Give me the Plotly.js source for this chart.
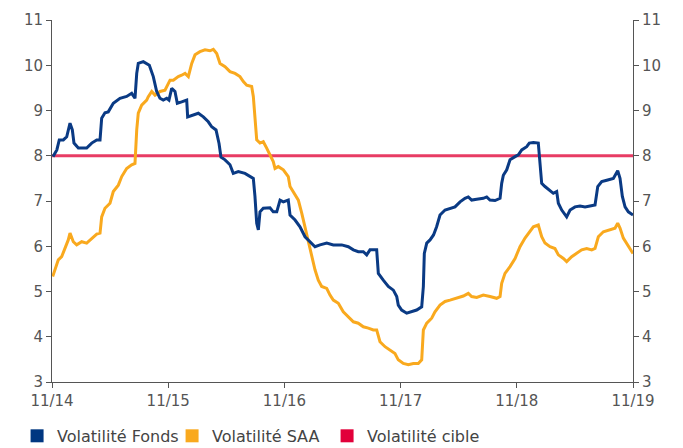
<!DOCTYPE html>
<html>
<head>
<meta charset="utf-8">
<script src="https://cdn.plot.ly/plotly-3.0.1.min.js"></script>
<style>html,body{margin:0;padding:0;background:#fff;}#chart{width:683px;height:448px;}</style>
</head>
<body>
<div id="chart"></div>
<script>
// x = months since November 2014
const tickVals = [0, 12, 24, 36, 48, 60];
const tickLabels = ["11/14", "11/15", "11/16", "11/17", "11/18", "11/19"];

const fondsX = [0.1,0.5,0.75,1.17,1.52,1.86,2.1,2.27,2.72,3.58,4.1,4.62,4.96,5.13,5.47,5.81,6.33,7.02,7.71,8.23,8.57,8.75,8.91,9.43,10.05,10.46,10.81,11.15,11.49,11.85,12.08,12.36,12.7,12.94,13.39,13.91,14.01,14.59,15.11,15.63,16.14,16.49,16.94,17.25,17.45,17.87,18.38,18.72,19.24,19.93,20.45,20.79,20.96,21.14,21.31,21.48,21.82,22.51,22.85,23.21,23.55,23.89,24.4,24.58,25.1,25.61,26.13,26.64,27.16,27.68,28.37,29.05,29.92,30.6,31.12,31.63,32.15,32.5,32.84,33.53,33.7,34.21,34.73,35.25,35.6,35.76,36.11,36.63,37.15,37.66,38.18,38.35,38.45,38.7,39.04,39.4,39.72,40.07,40.59,41.1,41.62,42.14,42.65,42.99,43.34,43.86,44.54,44.89,45.23,45.75,46.27,46.44,46.61,46.96,47.3,47.82,48.16,48.51,49.02,49.29,49.71,50.22,50.4,50.57,50.91,51.43,51.77,52.12,52.29,52.64,53.15,53.5,54.01,54.53,55.05,55.56,56.08,56.36,56.77,57.29,57.97,58.42,58.66,58.9,59.18,59.52,60];
const fondsY = [7.98,8.13,8.35,8.35,8.42,8.72,8.57,8.28,8.17,8.17,8.28,8.35,8.35,8.83,8.95,8.97,9.16,9.27,9.31,9.38,9.27,9.82,10.04,10.08,10.0,9.75,9.42,9.27,9.23,9.27,9.23,9.49,9.42,9.16,9.19,9.23,8.86,8.9,8.94,8.86,8.75,8.64,8.57,8.27,7.97,7.91,7.8,7.61,7.65,7.61,7.54,7.5,7.1,6.51,6.36,6.76,6.84,6.85,6.76,6.76,7.02,6.98,7.02,6.69,6.58,6.43,6.21,6.1,5.99,6.03,6.07,6.03,6.03,5.99,5.92,5.88,5.88,5.81,5.92,5.92,5.4,5.25,5.11,5.03,4.89,4.7,4.59,4.52,4.55,4.59,4.66,5.11,5.84,6.07,6.14,6.25,6.43,6.69,6.8,6.84,6.87,6.98,7.06,7.09,7.02,7.04,7.06,7.09,7.02,7.01,7.06,7.39,7.57,7.69,7.91,7.98,8.02,8.13,8.2,8.28,8.29,8.28,7.76,7.39,7.32,7.24,7.17,7.21,6.95,6.8,6.65,6.8,6.87,6.89,6.87,6.89,6.91,7.32,7.43,7.46,7.5,7.67,7.5,7.1,6.87,6.76,6.69];

const saaX = [0.07,0.31,0.65,1.0,1.34,1.68,1.86,2.2,2.55,3.07,3.58,4.1,4.62,4.96,5.13,5.47,5.99,6.33,6.85,7.2,7.71,8.23,8.57,8.75,8.91,9.26,9.78,9.93,10.3,10.64,11.15,11.67,12.19,12.53,13.04,13.39,13.74,14.08,14.43,14.77,15.28,15.8,16.32,16.66,17.01,17.35,17.87,18.38,18.9,19.41,19.76,20.11,20.62,20.79,20.96,21.14,21.48,21.82,22.17,22.51,22.85,23.03,23.37,23.89,24.4,24.58,24.92,25.44,25.79,26.13,26.47,26.82,27.16,27.5,27.85,28.37,28.71,29.05,29.57,30.08,30.6,31.12,31.63,32.15,32.67,33.18,33.53,33.87,34.39,34.91,35.42,35.76,36.28,36.8,37.31,37.83,38.18,38.35,38.7,39.21,39.55,40.07,40.59,41.1,41.8,42.48,42.99,43.34,43.86,44.54,45.23,45.92,46.27,46.44,46.78,47.3,47.82,48.33,48.85,49.2,49.71,50.22,50.57,50.91,51.43,51.94,52.29,52.81,53.15,53.67,54.19,54.7,55.22,55.74,56.08,56.42,56.94,57.63,58.14,58.42,58.66,59.0,59.52,60];
const saaY = [5.33,5.48,5.7,5.77,5.95,6.14,6.29,6.1,6.03,6.1,6.07,6.18,6.27,6.29,6.65,6.84,6.95,7.21,7.35,7.54,7.72,7.8,7.83,8.57,8.94,9.12,9.23,9.3,9.42,9.34,9.42,9.45,9.67,9.67,9.75,9.78,9.82,9.75,10.04,10.23,10.3,10.34,10.32,10.35,10.26,10.04,9.97,9.86,9.82,9.75,9.64,9.56,9.53,9.31,8.79,8.35,8.28,8.31,8.17,8.02,7.87,7.72,7.76,7.69,7.54,7.32,7.21,7.02,6.73,6.43,6.07,5.77,5.48,5.25,5.11,5.07,4.92,4.81,4.74,4.55,4.44,4.33,4.3,4.22,4.19,4.15,4.15,3.89,3.78,3.71,3.63,3.49,3.41,3.38,3.41,3.41,3.49,4.15,4.3,4.41,4.55,4.7,4.78,4.81,4.85,4.9,4.96,4.89,4.87,4.92,4.89,4.85,4.89,5.18,5.4,5.55,5.73,5.99,6.18,6.29,6.43,6.47,6.21,6.07,5.99,5.95,5.81,5.73,5.66,5.77,5.84,5.92,5.95,5.92,5.95,6.21,6.32,6.36,6.4,6.51,6.4,6.18,5.99,5.84];

const cibleX = [0, 60];
const cibleY = [8, 8];

const seriesNames = ["Volatilité Fonds", "Volatilité SAA", "Volatilité cible"];
const colors = ["#0A3A84", "#F9A91E", "#E83C64"];
const legendColors = ["#003781", "#F9A91E", "#E2003A"];

const traces = [
  {x: cibleX, y: cibleY, type: "scatter", mode: "lines", line: {color: colors[2], width: 3}, showlegend: false, hoverinfo: "skip"},
  {x: saaX, y: saaY, type: "scatter", mode: "lines", line: {color: colors[1], width: 3}, showlegend: false},
  {x: fondsX, y: fondsY, type: "scatter", mode: "lines", line: {color: colors[0], width: 3}, showlegend: false},
  {x: cibleX, y: cibleY, yaxis: "y2", type: "scatter", mode: "lines", line: {width: 0}, opacity: 0, showlegend: false, hoverinfo: "skip"}
];
seriesNames.forEach((n, i) => {
  traces.push({x: [null], y: [null], type: "scatter", mode: "markers", name: n,
    marker: {symbol: "square", size: 13, color: legendColors[i]}});
});

const fontFam = "DejaVu Sans, sans-serif";
const axisFont = {family: fontFam, size: 15, color: "#555"};
const layout = {
  width: 683, height: 448,
  margin: {l: 52, r: 50, t: 20, b: 66},
  paper_bgcolor: "#fff", plot_bgcolor: "#fff",
  showlegend: true,
  legend: {orientation: "h", x: 0.025, xref: "container", xanchor: "left",
    y: 0.027, yref: "container", yanchor: "middle",
    font: {family: fontFam, size: 16, color: "#444"},
    itemwidth: 30, entrywidth: 110, entrywidthmode: "pixels", tracegroupgap: 0, itemclick: false},
  xaxis: {range: [0, 60], tickvals: tickVals, ticktext: tickLabels, showgrid: false, zeroline: false,
    showline: true, linecolor: "#555", linewidth: 1, ticks: "outside", ticklen: 5, tickcolor: "#555",
    tickfont: axisFont},
  yaxis: {range: [3, 11], dtick: 1, showgrid: false, zeroline: false, showline: true, linecolor: "#555",
    linewidth: 1, ticks: "outside", ticklen: 5, tickcolor: "#555", tickfont: axisFont},
  yaxis2: {range: [3, 11], dtick: 1, overlaying: "y", side: "right", showgrid: false, zeroline: false,
    showline: true, linecolor: "#555", linewidth: 1, ticks: "outside", ticklen: 5, tickcolor: "#555",
    tickfont: axisFont}
};

Plotly.newPlot("chart", traces, layout, {displayModeBar: false, staticPlot: true});
</script>
</body>
</html>
